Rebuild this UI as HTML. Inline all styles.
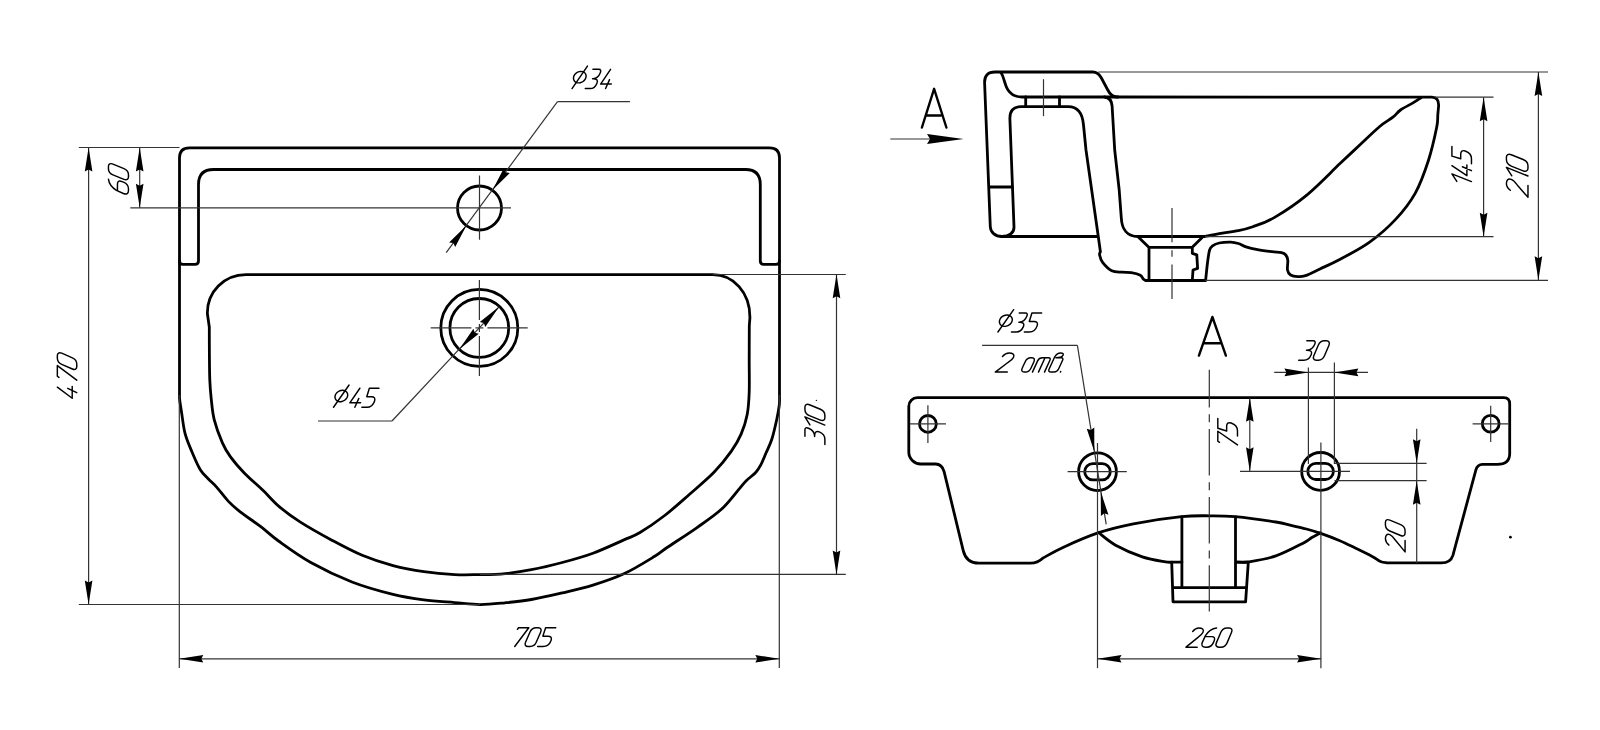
<!DOCTYPE html>
<html><head><meta charset="utf-8"><title>drawing</title><style>
html,body{margin:0;padding:0;background:#fff;width:1600px;height:730px;overflow:hidden;font-family:"Liberation Sans",sans-serif;}
svg{display:block}
.k{fill:none;stroke:#000;stroke-width:2.8;stroke-linecap:round;stroke-linejoin:round}
.t{fill:none;stroke:#333;stroke-width:1.2}
.a{fill:#000;stroke:none}
.A{fill:none;stroke:#000;stroke-width:2.4;stroke-linecap:round;stroke-linejoin:round}
.g path{fill:none;stroke:#000;stroke-width:1.45;stroke-linecap:round;stroke-linejoin:round;vector-effect:non-scaling-stroke}
</style></head><body>
<svg width="1600" height="730" viewBox="0 0 1600 730">
<path d="M179.5,395 L179.5,157.8 Q179.5,147.8 189.5,147.8 L769.5,147.8 Q779.5,147.8 779.5,157.8 L779.5,395  C779.47,396.67 779.75,400.95 779.3,405 C778.85,409.05 778.03,413.63 776.8,419.3 C775.57,424.97 773.7,433.38 771.9,439 C770.1,444.62 767.85,448.68 766,453 C764.15,457.32 762.48,461.68 760.8,464.9 C759.12,468.12 758.37,469.63 755.9,472.3 C753.43,474.97 748.88,478.02 746,480.9 C743.12,483.78 742.7,484.87 738.6,489.6 C734.5,494.33 728.38,502.93 721.4,509.3 C714.42,515.67 705.75,521.43 696.7,527.8 C687.65,534.17 674.1,542.75 667.1,547.5 C660.1,552.25 661.9,551.92 654.7,556.3 C647.5,560.68 634.18,569 623.9,573.8 C613.62,578.6 603.28,581.92 593,585.1 C582.72,588.28 572.47,590.5 562.2,592.9 C551.93,595.3 540.93,597.85 531.4,599.5 C521.87,601.15 513.57,601.95 505,602.8 C496.43,603.65 488.38,604.63 480,604.6 C471.62,604.57 464.05,603.38 454.7,602.6 C445.35,601.82 434.18,601.27 423.9,599.9 C413.62,598.53 404.98,597.38 393,594.4 C381.02,591.42 365.7,587.32 352,582 C338.3,576.68 323.05,569.33 310.8,562.5 C298.55,555.67 286.83,546.97 278.5,541 C270.17,535.03 267.23,531.6 260.8,526.7 C254.37,521.8 245.33,515.87 239.9,511.6 C234.47,507.33 232.08,505.18 228.2,501.1 C224.32,497.02 219.9,490.78 216.6,487.1 C213.3,483.42 211.12,481.9 208.4,479 C205.68,476.1 203.02,474.17 200.3,469.7 C197.58,465.23 194.63,458.22 192.1,452.2 C189.57,446.18 186.85,440.2 185.1,433.6 C183.35,427 182.5,418.2 181.6,412.6 C180.7,407 180.05,402.93 179.7,400 C179.35,397.07 179.53,395.83 179.5,395" class="k"/>
<path d="M179.5,261 Q179.5,264.4 183,264.4 L195,264.4 Q198.5,264.4 198.5,261 L198.5,184.5 Q198.5,169.5 213.5,169.5 L745.5,169.5 Q760.3,169.5 760.3,184.5 L760.3,261 Q760.3,264.4 763.8,264.4 L776,264.4 Q779.5,264.4 779.5,261" class="k"/>
<path d="M246,274.7 L712.9,274.7 C733,274.7 750.2,292 749.9,317.8 L749.3,326  C749.28,331.67 749.22,348.97 749.2,360 C749.18,371.03 749.53,383.13 749.2,392.2 C748.87,401.27 748.55,407.42 747.2,414.4 C745.85,421.38 743.77,427.93 741.1,434.1 C738.43,440.27 735.72,445.03 731.2,451.4 C726.68,457.77 720.98,465.12 714,472.3 C707.02,479.48 697.52,487.3 689.3,494.5 C681.08,501.7 672.92,509.17 664.7,515.5 C656.48,521.83 646.8,528.43 640,532.5 C633.2,536.57 631.73,536.45 623.9,539.9 C616.07,543.35 603.28,549.43 593,553.2 C582.72,556.97 572.47,559.75 562.2,562.5 C551.93,565.25 541.67,567.75 531.4,569.7 C521.13,571.65 509.17,573.38 500.6,574.2 C492.03,575.02 487.65,574.53 480,574.6 C472.35,574.67 464.05,575.08 454.7,574.6 C445.35,574.12 434.18,573.2 423.9,571.7 C413.62,570.2 403.28,568.33 393,565.6 C382.72,562.87 372.47,559.58 362.2,555.3 C351.93,551.02 341.7,545.43 331.4,539.9 C321.1,534.37 309.05,527.6 300.4,522.1 C291.75,516.6 285.7,512.15 279.5,506.9 C273.3,501.65 269.03,496.22 263.2,490.6 C257.37,484.98 249.95,478.82 244.5,473.2 C239.05,467.58 234.18,461.95 230.5,456.9 C226.82,451.85 225.12,449.12 222.4,442.9 C219.68,436.68 216.07,426.98 214.2,419.6 C212.33,412.22 211.93,405.2 211.2,398.6 C210.47,392 210.1,387.27 209.8,380 C209.5,372.73 209.48,363.83 209.4,355 C209.32,346.17 209.32,331.67 209.3,327 L207.4,313.7 C207,292 224,274.7 246,274.7 Z" class="k"/>
<circle cx="479.5" cy="208" r="22" class="k"/>
<circle cx="479.3" cy="327.9" r="38.5" class="k"/>
<circle cx="479.3" cy="327.9" r="29.4" class="k"/>
<path d="M130.3,207.8 L511,207.8" class="t"/>
<path d="M479.5,175.5 L479.5,239.7" class="t"/>
<path d="M430.7,327.9 L471.4,327.9" class="t"/>
<path d="M475.4,327.9 L483.4,327.9" class="t"/>
<path d="M487.4,327.9 L527.7,327.9" class="t"/>
<path d="M479.4,279.9 L479.4,319.9" class="t"/>
<path d="M479.4,323.9 L479.4,331.9" class="t"/>
<path d="M479.4,335.9 L479.4,376" class="t"/>
<path d="M78.8,147.5 L179.5,147.5" class="t"/>
<path d="M78.8,604.5 L480,604.5" class="t"/>
<path d="M88.6,147.5 L88.6,604.5" class="t"/>
<path d="M88.6,147.5 L84.8,171.5 L88.6,169.5 L92.4,171.5 Z" class="a"/>
<path d="M88.6,604.5 L92.4,580.5 L88.6,582.5 L84.8,580.5 Z" class="a"/>
<path d="M139.7,147.5 L139.7,207.8" class="t"/>
<path d="M139.7,147.5 L135.9,171.5 L139.7,169.5 L143.5,171.5 Z" class="a"/>
<path d="M139.7,207.8 L143.5,183.8 L139.7,185.8 L135.9,183.8 Z" class="a"/>
<path d="M179.3,395 L179.3,668" class="t"/>
<path d="M779.3,395 L779.3,668" class="t"/>
<path d="M179.3,658.8 L779.3,658.8" class="t"/>
<path d="M179.3,658.8 L203.3,662.6 L201.3,658.8 L203.3,655 Z" class="a"/>
<path d="M779.3,658.8 L755.3,655 L757.3,658.8 L755.3,662.6 Z" class="a"/>
<path d="M712.9,274.5 L845.8,274.5" class="t"/>
<path d="M480,574.4 L845.8,574.4" class="t"/>
<path d="M836.5,274.3 L836.5,574.4" class="t"/>
<path d="M836.5,274.3 L832.7,298.3 L836.5,296.3 L840.3,298.3 Z" class="a"/>
<path d="M836.5,574.4 L840.3,550.4 L836.5,552.4 L832.7,550.4 Z" class="a"/>
<circle cx="816.4" cy="400.4" r="0.7" fill="#222"/>
<path d="M629.9,101.6 L557.5,101.6" class="t"/>
<path d="M557.5,101.6 L446.2,252.7" class="t"/>
<path d="M492.55,189.99 L509.82,172.9 L505.58,172.26 L503.7,168.4 Z" class="a"/>
<path d="M466.45,225.41 L449.1,242.42 L453.34,243.08 L455.2,246.95 Z" class="a"/>
<path d="M318,421 L392,421" class="t"/>
<path d="M392,421 L459.2,349.2" class="t"/>
<path d="M459.33,349.2 L499.27,306.6" class="t"/>
<path d="M499.27,306.6 L479.82,321.94 L483.88,323.01 L485.21,327 Z" class="a"/>
<path d="M459.33,349.2 L478.78,333.86 L474.72,332.79 L473.39,328.8 Z" class="a"/>
<path d="M890.3,139 L930,139" class="t"/>
<path d="M963.5,139 L927,134 L930,139 L927,144 Z" class="a"/>
<path d="M921.9,127.5 L934.1,88.8 L946.4,127.5 M927.4,115.5 L940.7,115.5" class="A"/>
<path d="M1198.9,355.6 L1212.4,317 L1225.9,355.6 M1204.6,343.3 L1220.2,343.3" class="A"/>
<path d="M1205.1,280.5 L1145.6,280.5  C1145.22,280.25 1144.18,279.88 1143.3,279 C1142.42,278.12 1142.3,276.27 1140.3,275.2 C1138.3,274.13 1134.32,273.1 1131.3,272.6 C1128.28,272.1 1125.47,272.52 1122.2,272.2 C1118.93,271.88 1114.97,272.33 1111.7,270.7 C1108.43,269.07 1104.62,265.02 1102.6,262.4 C1100.58,259.78 1099.97,256.77 1099.6,255 C1099.23,253.23 1100.27,252.33 1100.4,251.8 L1098.1,235.2 L1086,150 L1083.5,125 Q1082,106.6 1068.2,106.6 L1021,106.6 Q1009.5,106.6 1009.9,119 L1014,226.7 C1014.3,233 1009,236.5 1002,236.5 C995,236.5 990.5,232 990.3,226.7 L984.6,83 Q984.2,72 995,72 L1092.8,72 C1097,72 1099.5,74.5 1101.4,78 L1107.5,89.5 C1109.5,93.5 1112,97 1117,97 L1431.8,97.1 Q1439,97.3 1438.6,106  C1438.47,107.5 1438.12,111.45 1437.8,115 C1437.48,118.55 1438.25,119.77 1436.7,127.3 C1435.15,134.83 1432.07,149.23 1428.5,160.2 C1424.93,171.17 1420.78,183.23 1415.3,193.1 C1409.82,202.97 1403.27,211.18 1395.6,219.4 C1387.93,227.62 1378.62,235.72 1369.3,242.4 C1359.98,249.08 1347.92,255.08 1339.7,259.5 C1331.48,263.92 1325.7,266.22 1320,268.9 C1314.3,271.58 1309.2,274.32 1305.5,275.6 C1301.8,276.88 1300.28,276.7 1297.8,276.6 C1295.32,276.5 1292.32,276.12 1290.6,275 C1288.88,273.88 1287.97,272.35 1287.5,269.9 C1287.03,267.45 1288.08,262.78 1287.8,260.3 C1287.52,257.82 1286.85,256.28 1285.8,255 C1284.75,253.72 1283.82,253.15 1281.5,252.6 C1279.18,252.05 1275.88,252.18 1271.9,251.7 C1267.92,251.22 1261.92,250.5 1257.6,249.7 C1253.28,248.9 1249.2,247.93 1246,246.9 C1242.8,245.87 1240.95,244.3 1238.4,243.5 C1235.85,242.7 1233.9,242.18 1230.7,242.1 C1227.5,242.02 1222.23,242.37 1219.2,243 C1216.17,243.63 1214.1,244.73 1212.5,245.9 C1210.9,247.07 1210.42,247.32 1209.6,250 C1208.78,252.68 1208.27,256.92 1207.6,262 C1206.93,267.08 1205.93,277.42 1205.6,280.5" class="k"/>
<path d="M1001,236.5 L1097.6,236.5" class="k"/>
<path d="M1001,72.6 C1004.5,78 1004.4,85 1008,90 C1011,94.5 1016,97 1022,97 L1118,97" class="k"/>
<path d="M1025.7,97 L1025.7,106.6 M1059.5,97 L1059.5,106.6" class="k"/>
<path d="M989.4,187 L1012.2,187" class="k"/>
<path d="M1104.5,97 C1109,97.5 1111.6,100.5 1112.1,106 L1114.7,150 L1119.2,190 L1121.3,218 C1121.8,229 1127,236.5 1138,236.5 L1205.1,236.5  C1207.45,236.02 1213.65,234.58 1219.2,233.6 C1224.75,232.62 1232.8,231.75 1238.4,230.6 C1244,229.45 1246.83,228.87 1252.8,226.7 C1258.77,224.53 1265.15,222.92 1274.2,217.6 C1283.25,212.28 1296.13,203.8 1307.1,194.8 C1318.07,185.8 1331.18,171.93 1340,163.6 C1348.82,155.27 1353.38,150.98 1360,144.8 C1366.62,138.62 1374.22,131.1 1379.7,126.5 C1385.18,121.9 1389.43,119.95 1392.9,117.2 C1396.37,114.45 1397.22,112.35 1400.5,110 C1403.78,107.65 1409.13,105.18 1412.6,103.1 C1416.07,101.02 1419.85,98.43 1421.3,97.5" class="k"/>
<path d="M1138.8,237.5 L1148.8,247.3 L1192.3,247.3 L1202.1,237.5 M1149,247.3 L1149,280.5 M1192.3,247.3 L1192.3,253.3 L1196.8,254.8 L1197.6,268.4 L1193,270 L1192.3,280.5" class="k"/>
<path d="M1043.5,79.2 L1043.5,116.2" class="t"/>
<path d="M1172,207.9 L1172,299" class="t" stroke-dasharray="34.4 7.9 6.5 7.9"/>
<path d="M1098.3,72 L1548,72" class="t"/>
<path d="M1435,97.2 L1493.5,97.2" class="t"/>
<path d="M1205,236.7 L1493.5,236.7" class="t"/>
<path d="M1205,280.3 L1548,280.3" class="t"/>
<path d="M1483.6,97.2 L1483.6,236.7" class="t"/>
<path d="M1483.6,97.2 L1479.8,121.2 L1483.6,119.2 L1487.4,121.2 Z" class="a"/>
<path d="M1483.6,236.7 L1487.4,212.7 L1483.6,214.7 L1479.8,212.7 Z" class="a"/>
<path d="M1538.4,72 L1538.4,280.3" class="t"/>
<path d="M1538.4,72 L1534.6,96 L1538.4,94 L1542.2,96 Z" class="a"/>
<path d="M1538.4,280.3 L1542.2,256.3 L1538.4,258.3 L1534.6,256.3 Z" class="a"/>
<path d="M917.3,397.7 L1503.8,397.7 Q1509.7,397.7 1509.7,404.1 L1509.7,453.4 Q1509.7,464.3 1497.2,464.3 L1482.4,464.3 Q1477.5,464.3 1475.9,469.9 L1452.9,555.3 Q1450.5,562.9 1441.4,562.9 L1387.1,562.9  C1386,562.67 1382.98,562.58 1380.5,561.5 C1378.02,560.42 1376.33,558.62 1372.2,556.4 C1368.07,554.18 1361.18,550.85 1355.7,548.2 C1350.22,545.55 1345.13,542.97 1339.3,540.5 C1333.47,538.03 1326.18,535.32 1320.7,533.4 C1315.22,531.48 1311.52,530.37 1306.4,529 C1301.28,527.63 1295.08,526.37 1290,525.2 C1284.92,524.03 1285.07,523.42 1275.9,522 C1266.73,520.58 1245.98,517.73 1235,516.7 C1224.02,515.67 1218.92,515.8 1210,515.8 C1201.08,515.8 1194.27,515.37 1181.5,516.7 C1168.73,518.03 1147.2,521.13 1133.4,523.8 C1119.6,526.47 1110.43,528.77 1098.7,532.7 C1086.97,536.63 1072.28,543.18 1063,547.4 C1053.72,551.62 1046.33,556.23 1043,558 Q1037.8,563.1 1030.4,563.1 L978.8,563.1 Q966.3,563.1 963.3,550.8 L944.1,471.6 Q942,464 935.5,464 L920.8,464 C914.2,464 908.8,458.6 908.8,452 L908.8,406.2 C908.8,401.5 912.6,397.7 917.3,397.7 Z" class="k"/>
<path d="M1098.7,532.7 C1101.52,534.78 1108.33,541.18 1115.6,545.2 C1122.87,549.22 1133.98,554.03 1142.3,556.8 C1150.62,559.57 1160.6,560.92 1165.5,561.8 C1170.4,562.68 1170.67,562.05 1171.7,562.1 L1181.9,562.1" class="k"/>
<path d="M1236.5,562.1 C1238.62,562.05 1242.63,562.83 1249.2,561.8 C1255.77,560.77 1267,558.97 1275.9,555.9 C1284.8,552.83 1296.6,546.47 1302.6,543.4 C1308.6,540.33 1308.92,539.27 1311.9,537.5 C1314.88,535.73 1319.07,533.58 1320.5,532.8" class="k"/>
<path d="M1181.9,516.9 L1181.9,587.6 M1235.5,516.9 L1235.5,587.6 M1171.7,562.1 L1173,601.8 L1245.6,601.8 L1248.3,562.1 L1235.5,562.1 M1173,587.6 L1245.6,587.6" class="k"/>
<circle cx="927.9" cy="423.9" r="8.4" class="k"/>
<circle cx="1490.7" cy="423.8" r="8.4" class="k"/>
<path d="M909.8,423.9 L946,423.9" class="t"/>
<path d="M927.9,405.2 L927.9,443" class="t"/>
<path d="M1472.6,423.8 L1508.7,423.8" class="t"/>
<path d="M1490.7,405.7 L1490.7,441.9" class="t"/>
<circle cx="1097.5" cy="471.7" r="18.9" class="k"/>
<rect x="1084.7" y="463.6" width="25.6" height="16.2" rx="8.1" class="k"/>
<circle cx="1320.6" cy="471.4" r="18.9" class="k"/>
<rect x="1307.8" y="463.3" width="25.6" height="16.2" rx="8.1" class="k"/>
<path d="M1067.6,471.7 L1126.8,471.7" class="t"/>
<path d="M1097.5,443 L1097.5,668.2" class="t"/>
<path d="M1240,471.4 L1350,471.4" class="t"/>
<path d="M1320.9,442.6 L1320.9,668.2" class="t"/>
<path d="M1209.3,369.7 L1209.3,611.4" class="t" stroke-dasharray="46.5 6.8 8 6.8" stroke-dashoffset="8.8"/>
<path d="M1249.8,397.7 L1249.8,471.2" class="t"/>
<path d="M1249.8,397.7 L1246,421.7 L1249.8,419.7 L1253.6,421.7 Z" class="a"/>
<path d="M1249.8,471.2 L1253.6,447.2 L1249.8,449.2 L1246,447.2 Z" class="a"/>
<path d="M1274.2,372.4 L1368,372.4" class="t"/>
<path d="M1308.4,372.4 L1284.4,368.6 L1286.4,372.4 L1284.4,376.2 Z" class="a"/>
<path d="M1334.4,372.4 L1358.4,376.2 L1356.4,372.4 L1358.4,368.6 Z" class="a"/>
<path d="M1308.4,367.4 L1308.4,464" class="t"/>
<path d="M1334.4,362.4 L1334.4,464" class="t"/>
<path d="M1334.5,463.3 L1426.6,463.3" class="t"/>
<path d="M1334.5,480.7 L1426.6,480.7" class="t"/>
<path d="M1416.7,428.8 L1416.7,562.9" class="t"/>
<path d="M1416.7,463.3 L1420.5,439.3 L1416.7,441.3 L1412.9,439.3 Z" class="a"/>
<path d="M1416.7,480.7 L1412.9,504.7 L1416.7,502.7 L1420.5,504.7 Z" class="a"/>
<path d="M1097.5,658.8 L1321.1,658.8" class="t"/>
<path d="M1097.5,658.8 L1121.5,662.6 L1119.5,658.8 L1121.5,655 Z" class="a"/>
<path d="M1321.1,658.8 L1297.1,655 L1299.1,658.8 L1297.1,662.6 Z" class="a"/>
<path d="M982.1,345.3 L1077.4,345.3" class="t"/>
<path d="M1077.4,345.3 L1106.2,524.4" class="t"/>
<path d="M1094.29,451.76 L1094.28,427.46 L1090.85,430.03 L1086.78,428.65 Z" class="a"/>
<path d="M1100.71,491.64 L1100.93,515.94 L1104.35,513.34 L1108.42,514.68 Z" class="a"/>
<circle cx="1510.4" cy="537.2" r="1.4" fill="#000"/>
<g class="g" transform="translate(76.775,401.48) rotate(-90) scale(1.059,0.972)"><g transform="skewX(-21.801)"><path transform="translate(0,0)" d="M5.5,-20 L1.2,-4.7 L12.4,-4.7 M8.7,-9.3 L8.3,0"/><path transform="translate(15.4,0)" d="M0,-18.3 L0.4,-20 L10.5,-20 L4.7,0"/><path transform="translate(28.9,0)" d="M0,-15.5 L0,-4.5 C0,-1.8 1.8,0 4.2,0 L6.3,0 C8.7,0 10.5,-1.8 10.5,-4.5 L10.5,-15.5 C10.5,-18.2 8.7,-20 6.3,-20 L4.2,-20 C1.8,-20 0,-18.2 0,-15.5 Z"/></g></g>
<g class="g" transform="translate(128.475,195.519) rotate(-90) scale(1.025,1.002)"><g transform="skewX(-21.801)"><path transform="translate(0,0)" d="M8,-20 C4.5,-19.5 1.2,-17 0.3,-12 L0,-5 C0,-1.8 2,0 5,0 L6.5,0 C9.5,0 11,-2 11,-5 L11,-6.5 C11,-9.5 9.5,-11 6.5,-11 L0.2,-11"/><path transform="translate(14,0)" d="M0,-15.5 L0,-4.5 C0,-1.8 1.8,0 4.2,0 L6.3,0 C8.7,0 10.5,-1.8 10.5,-4.5 L10.5,-15.5 C10.5,-18.2 8.7,-20 6.3,-20 L4.2,-20 C1.8,-20 0,-18.2 0,-15.5 Z"/></g></g>
<g class="g" transform="translate(509.938,646.475) scale(1.019,0.938)"><g transform="skewX(-21.801)"><path transform="translate(0,0)" d="M0,-18.3 L0.4,-20 L10.5,-20 L4.7,0"/><path transform="translate(13.5,0)" d="M0,-15.5 L0,-4.5 C0,-1.8 1.8,0 4.2,0 L6.3,0 C8.7,0 10.5,-1.8 10.5,-4.5 L10.5,-15.5 C10.5,-18.2 8.7,-20 6.3,-20 L4.2,-20 C1.8,-20 0,-18.2 0,-15.5 Z"/><path transform="translate(27,0)" d="M10,-20 L0,-20 L0.9,-11 L5.8,-11 C8.8,-11 10.6,-9.4 10.8,-6.4 C11,-2.6 8.8,0 5.4,0 L0.2,0"/></g></g>
<g class="g" transform="translate(824.875,444.475) rotate(-90) scale(1.032,0.997)"><g transform="skewX(-21.801)"><path transform="translate(0,0)" d="M0,-20 L6.2,-20 C8.2,-20 9.2,-18.6 9.2,-16.4 C9.2,-12.6 7,-10.3 4,-10.3 L3.5,-10.3 M4,-10.3 C8,-10.3 10,-8.6 10,-5.6 C10,-2 8,0 5,0 L0,0"/><path transform="translate(13,0)" d="M0,-15 L5.8,-20 L5.8,0"/><path transform="translate(21.8,0)" d="M0,-15.5 L0,-4.5 C0,-1.8 1.8,0 4.2,0 L6.3,0 C8.7,0 10.5,-1.8 10.5,-4.5 L10.5,-15.5 C10.5,-18.2 8.7,-20 6.3,-20 L4.2,-20 C1.8,-20 0,-18.2 0,-15.5 Z"/></g></g>
<g class="g" transform="translate(569.067,88.575) scale(0.954,0.963)"><g transform="skewX(-21.801)"><path transform="translate(0,0)" d="M13,-11.85 C13.1,-11.34 13.13,-10.81 13.09,-10.31 C13.04,-9.81 12.92,-9.32 12.72,-8.88 C12.53,-8.43 12.26,-8.01 11.94,-7.64 C11.61,-7.28 11.21,-6.95 10.78,-6.7 C10.35,-6.44 9.85,-6.24 9.33,-6.1 C8.82,-5.97 8.25,-5.9 7.69,-5.9 C7.13,-5.9 6.54,-5.97 5.97,-6.1 C5.4,-6.24 4.82,-6.44 4.28,-6.7 C3.74,-6.95 3.21,-7.28 2.75,-7.64 C2.28,-8.01 1.84,-8.43 1.47,-8.88 C1.1,-9.32 0.77,-9.81 0.53,-10.31 C0.29,-10.81 0.1,-11.34 0,-11.85 C-0.1,-12.36 -0.13,-12.89 -0.09,-13.39 C-0.04,-13.89 0.08,-14.38 0.28,-14.82 C0.47,-15.27 0.74,-15.69 1.06,-16.06 C1.39,-16.42 1.79,-16.75 2.22,-17 C2.65,-17.26 3.15,-17.46 3.67,-17.6 C4.18,-17.73 4.75,-17.8 5.31,-17.8 C5.87,-17.8 6.46,-17.73 7.03,-17.6 C7.6,-17.46 8.18,-17.26 8.72,-17 C9.26,-16.75 9.79,-16.42 10.25,-16.06 C10.72,-15.69 11.16,-15.27 11.53,-14.83 C11.9,-14.38 12.23,-13.89 12.47,-13.39 C12.71,-12.89 12.9,-12.36 13,-11.85Z M9.9,-23.4 L3.1,0"/><path transform="translate(17,0)" d="M0,-20 L6.2,-20 C8.2,-20 9.2,-18.6 9.2,-16.4 C9.2,-12.6 7,-10.3 4,-10.3 L3.5,-10.3 M4,-10.3 C8,-10.3 10,-8.6 10,-5.6 C10,-2 8,0 5,0 L0,0"/><path transform="translate(30,0)" d="M5.5,-20 L1.2,-4.7 L12.4,-4.7 M8.7,-9.3 L8.3,0"/></g></g>
<g class="g" transform="translate(330.546,407.275) scale(0.961,0.953)"><g transform="skewX(-21.801)"><path transform="translate(0,0)" d="M13,-11.85 C13.1,-11.34 13.13,-10.81 13.09,-10.31 C13.04,-9.81 12.92,-9.32 12.72,-8.88 C12.53,-8.43 12.26,-8.01 11.94,-7.64 C11.61,-7.28 11.21,-6.95 10.78,-6.7 C10.35,-6.44 9.85,-6.24 9.33,-6.1 C8.82,-5.97 8.25,-5.9 7.69,-5.9 C7.13,-5.9 6.54,-5.97 5.97,-6.1 C5.4,-6.24 4.82,-6.44 4.28,-6.7 C3.74,-6.95 3.21,-7.28 2.75,-7.64 C2.28,-8.01 1.84,-8.43 1.47,-8.88 C1.1,-9.32 0.77,-9.81 0.53,-10.31 C0.29,-10.81 0.1,-11.34 0,-11.85 C-0.1,-12.36 -0.13,-12.89 -0.09,-13.39 C-0.04,-13.89 0.08,-14.38 0.28,-14.82 C0.47,-15.27 0.74,-15.69 1.06,-16.06 C1.39,-16.42 1.79,-16.75 2.22,-17 C2.65,-17.26 3.15,-17.46 3.67,-17.6 C4.18,-17.73 4.75,-17.8 5.31,-17.8 C5.87,-17.8 6.46,-17.73 7.03,-17.6 C7.6,-17.46 8.18,-17.26 8.72,-17 C9.26,-16.75 9.79,-16.42 10.25,-16.06 C10.72,-15.69 11.16,-15.27 11.53,-14.83 C11.9,-14.38 12.23,-13.89 12.47,-13.39 C12.71,-12.89 12.9,-12.36 13,-11.85Z M9.9,-23.4 L3.1,0"/><path transform="translate(17,0)" d="M5.5,-20 L1.2,-4.7 L12.4,-4.7 M8.7,-9.3 L8.3,0"/><path transform="translate(32.4,0)" d="M10,-20 L0,-20 L0.9,-11 L5.8,-11 C8.8,-11 10.6,-9.4 10.8,-6.4 C11,-2.6 8.8,0 5.4,0 L0.2,0"/></g></g>
<g class="g" transform="translate(1471.475,187.16) rotate(-90) scale(0.963,0.978)"><g transform="skewX(-21.801)"><path transform="translate(0,0)" d="M0,-15 L5.8,-20 L5.8,0"/><path transform="translate(8.8,0)" d="M5.5,-20 L1.2,-4.7 L12.4,-4.7 M8.7,-9.3 L8.3,0"/><path transform="translate(24.2,0)" d="M10,-20 L0,-20 L0.9,-11 L5.8,-11 C8.8,-11 10.6,-9.4 10.8,-6.4 C11,-2.6 8.8,0 5.4,0 L0.2,0"/></g></g>
<g class="g" transform="translate(1527.975,197.307) rotate(-90) scale(1.077,1.078)"><g transform="skewX(-21.801)"><path transform="translate(0,0)" d="M0,-16.4 C1,-19 2.6,-20 4.6,-20 C8,-20 10.5,-18.5 10.5,-15.5 C10.5,-13 9.5,-12 7.5,-10 L0,0 L11,0"/><path transform="translate(14,0)" d="M0,-15 L5.8,-20 L5.8,0"/><path transform="translate(22.8,0)" d="M0,-15.5 L0,-4.5 C0,-1.8 1.8,0 4.2,0 L6.3,0 C8.7,0 10.5,-1.8 10.5,-4.5 L10.5,-15.5 C10.5,-18.2 8.7,-20 6.3,-20 L4.2,-20 C1.8,-20 0,-18.2 0,-15.5 Z"/></g></g>
<g class="g" transform="translate(1237.475,449.514) rotate(-90) scale(0.987,0.983)"><g transform="skewX(-21.801)"><path transform="translate(0,0)" d="M0,-18.3 L0.4,-20 L10.5,-20 L4.7,0"/><path transform="translate(13.5,0)" d="M10,-20 L0,-20 L0.9,-11 L5.8,-11 C8.8,-11 10.6,-9.4 10.8,-6.4 C11,-2.6 8.8,0 5.4,0 L0.2,0"/></g></g>
<g class="g" transform="translate(1298.725,360.175) scale(1.018,0.968)"><g transform="skewX(-21.801)"><path transform="translate(0,0)" d="M0,-20 L6.2,-20 C8.2,-20 9.2,-18.6 9.2,-16.4 C9.2,-12.6 7,-10.3 4,-10.3 L3.5,-10.3 M4,-10.3 C8,-10.3 10,-8.6 10,-5.6 C10,-2 8,0 5,0 L0,0"/><path transform="translate(13,0)" d="M0,-15.5 L0,-4.5 C0,-1.8 1.8,0 4.2,0 L6.3,0 C8.7,0 10.5,-1.8 10.5,-4.5 L10.5,-15.5 C10.5,-18.2 8.7,-20 6.3,-20 L4.2,-20 C1.8,-20 0,-18.2 0,-15.5 Z"/></g></g>
<g class="g" transform="translate(1405.075,551.906) rotate(-90) scale(1.037,0.983)"><g transform="skewX(-21.801)"><path transform="translate(0,0)" d="M0,-16.4 C1,-19 2.6,-20 4.6,-20 C8,-20 10.5,-18.5 10.5,-15.5 C10.5,-13 9.5,-12 7.5,-10 L0,0 L11,0"/><path transform="translate(14,0)" d="M0,-15.5 L0,-4.5 C0,-1.8 1.8,0 4.2,0 L6.3,0 C8.7,0 10.5,-1.8 10.5,-4.5 L10.5,-15.5 C10.5,-18.2 8.7,-20 6.3,-20 L4.2,-20 C1.8,-20 0,-18.2 0,-15.5 Z"/></g></g>
<g class="g" transform="translate(1185.995,647.175) scale(1.019,0.958)"><g transform="skewX(-21.801)"><path transform="translate(0,0)" d="M0,-16.4 C1,-19 2.6,-20 4.6,-20 C8,-20 10.5,-18.5 10.5,-15.5 C10.5,-13 9.5,-12 7.5,-10 L0,0 L11,0"/><path transform="translate(14,0)" d="M8,-20 C4.5,-19.5 1.2,-17 0.3,-12 L0,-5 C0,-1.8 2,0 5,0 L6.5,0 C9.5,0 11,-2 11,-5 L11,-6.5 C11,-9.5 9.5,-11 6.5,-11 L0.2,-11"/><path transform="translate(28,0)" d="M0,-15.5 L0,-4.5 C0,-1.8 1.8,0 4.2,0 L6.3,0 C8.7,0 10.5,-1.8 10.5,-4.5 L10.5,-15.5 C10.5,-18.2 8.7,-20 6.3,-20 L4.2,-20 C1.8,-20 0,-18.2 0,-15.5 Z"/></g></g>
<g class="g" transform="translate(994.904,331.975) scale(0.974,0.953)"><g transform="skewX(-21.801)"><path transform="translate(0,0)" d="M13,-11.85 C13.1,-11.34 13.13,-10.81 13.09,-10.31 C13.04,-9.81 12.92,-9.32 12.72,-8.88 C12.53,-8.43 12.26,-8.01 11.94,-7.64 C11.61,-7.28 11.21,-6.95 10.78,-6.7 C10.35,-6.44 9.85,-6.24 9.33,-6.1 C8.82,-5.97 8.25,-5.9 7.69,-5.9 C7.13,-5.9 6.54,-5.97 5.97,-6.1 C5.4,-6.24 4.82,-6.44 4.28,-6.7 C3.74,-6.95 3.21,-7.28 2.75,-7.64 C2.28,-8.01 1.84,-8.43 1.47,-8.88 C1.1,-9.32 0.77,-9.81 0.53,-10.31 C0.29,-10.81 0.1,-11.34 0,-11.85 C-0.1,-12.36 -0.13,-12.89 -0.09,-13.39 C-0.04,-13.89 0.08,-14.38 0.28,-14.82 C0.47,-15.27 0.74,-15.69 1.06,-16.06 C1.39,-16.42 1.79,-16.75 2.22,-17 C2.65,-17.26 3.15,-17.46 3.67,-17.6 C4.18,-17.73 4.75,-17.8 5.31,-17.8 C5.87,-17.8 6.46,-17.73 7.03,-17.6 C7.6,-17.46 8.18,-17.26 8.72,-17 C9.26,-16.75 9.79,-16.42 10.25,-16.06 C10.72,-15.69 11.16,-15.27 11.53,-14.83 C11.9,-14.38 12.23,-13.89 12.47,-13.39 C12.71,-12.89 12.9,-12.36 13,-11.85Z M9.9,-23.4 L3.1,0"/><path transform="translate(17,0)" d="M0,-20 L6.2,-20 C8.2,-20 9.2,-18.6 9.2,-16.4 C9.2,-12.6 7,-10.3 4,-10.3 L3.5,-10.3 M4,-10.3 C8,-10.3 10,-8.6 10,-5.6 C10,-2 8,0 5,0 L0,0"/><path transform="translate(30,0)" d="M10,-20 L0,-20 L0.9,-11 L5.8,-11 C8.8,-11 10.6,-9.4 10.8,-6.4 C11,-2.6 8.8,0 5.4,0 L0.2,0"/></g></g>
<g class="g" transform="translate(995.293,372.075) scale(1.093,0.953)"><g transform="skewX(-21.801)"><path transform="translate(0,0)" d="M0,-16.4 C1,-19 2.6,-20 4.6,-20 C8,-20 10.5,-18.5 10.5,-15.5 C10.5,-13 9.5,-12 7.5,-10 L0,0 L11,0"/><path transform="translate(23,0)" d="M0,-10.6 L0,-4 C0,-1.6 1.4,0 3.4,0 L4.6,0 C6.6,0 8,-1.6 8,-4 L8,-10.6 C8,-13.4 6.6,-15 4.6,-15 L3.4,-15 C1.4,-15 0,-13.4 0,-10.6 Z"/><path transform="translate(34,0)" d="M0,0 L0,-11.8 C0,-13.8 1.2,-15 3.2,-15 L8.6,-15 C10.2,-15 11,-14.2 11,-12.4 L11,0 M5.5,-15 L5.5,0"/><path transform="translate(48,0)" d="M1.5,-15 L6.4,-15 C7.9,-15 8.6,-14 8.6,-12.4 L8.6,-3.2 C8.6,-1.2 7.5,0 5.6,0 L3,0 C1.1,0 0,-1.2 0,-3.2 L0,-15.5 C0,-18.5 1.5,-20 3.9,-20 C5.8,-20 6.9,-19.2 6.9,-17.8 C6.9,-16 4.6,-15 1.5,-15"/><path transform="translate(59.6,0)" d="M0,-0.6 L0,0"/></g></g>
</svg>
</body></html>
